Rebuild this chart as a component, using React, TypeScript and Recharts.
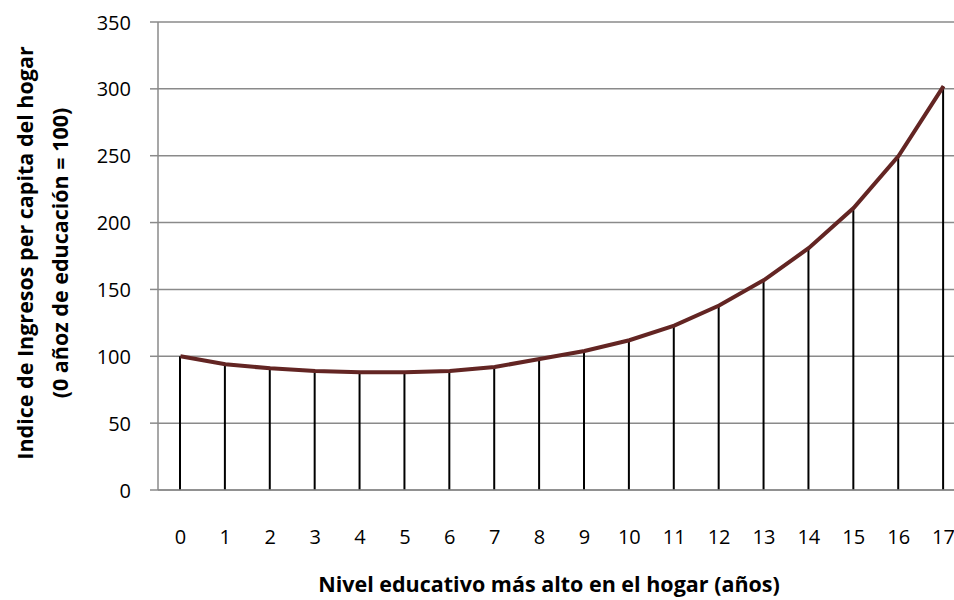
import React from "react";
import {
  ComposedChart,
  Bar,
  Line,
  XAxis,
  YAxis,
  CartesianGrid,
} from "recharts";

const years = ["0", "1", "2", "3", "4", "5", "6", "7", "8", "9", "10", "11", "12", "13", "14", "15", "16", "17"];
const indexValues = [100, 94, 91, 89, 88, 88, 89, 92, 98, 104, 112, 123, 138, 157, 181, 211, 250, 302];
const yTicks = [0, 50, 100, 150, 200, 250, 300, 350];

const yTitle1 = "Indice de Ingresos per capita del hogar";
const yTitle2 = "(0 añoz de educación = 100)";
const xTitle = "Nivel educativo más alto en el hogar (años)";

const data = years.map((y, i) => ({ year: y, value: indexValues[i] }));

const FONT = "'Open Sans', 'Liberation Sans', sans-serif";
const GRID = "#8a8a8a";

const XTick = (props: any) => {
  const { x, y, payload } = props;
  return (
    <text x={x} y={y} dy={46} textAnchor="middle" fontFamily={FONT} fontSize={20} fill="#000">
      {payload.value}
    </text>
  );
};

const YTick = (props: any) => {
  const { x, y, payload } = props;
  return (
    <text x={x} y={y} textAnchor="end" dominantBaseline="central" fontFamily={FONT} fontSize={20} fill="#000">
      {payload.value}
    </text>
  );
};

const YTitle = (props: any) => {
  const vb = props.viewBox || {};
  const cy = (vb.y ?? 22) + (vb.height ?? 468) / 2 - 3;
  return (
    <g>
      <text
        x={24}
        y={cy}
        transform={`rotate(-90, 24, ${cy})`}
        textAnchor="middle"
        dominantBaseline="central"
        fontFamily={FONT}
        fontWeight="bold"
        fontSize={21.5}
        fill="#000"
      >
        {yTitle1}
      </text>
      <text
        x={59}
        y={cy}
        transform={`rotate(-90, 59, ${cy})`}
        textAnchor="middle"
        dominantBaseline="central"
        fontFamily={FONT}
        fontWeight="bold"
        fontSize={21.5}
        fill="#000"
      >
        {yTitle2}
      </text>
    </g>
  );
};

const XTitle = (props: any) => {
  const vb = props.viewBox || {};
  const cx = (vb.x ?? 158) + (vb.width ?? 808) / 2 - 13;
  return (
    <text x={cx} y={592} textAnchor="middle" fontFamily={FONT} fontWeight="bold" fontSize={21.5} fill="#000">
      {xTitle}
    </text>
  );
};

export default function App() {
  return (
    <div
      style={{
        position: "absolute",
        left: 0,
        top: 0,
        width: 954,
        height: 600,
        overflow: "hidden",
        background: "#fff",
      }}
    >
      <ComposedChart
        width={966}
        height={600}
        data={data}
        margin={{ top: 22, right: 0, bottom: 0, left: 0 }}
      >
        <CartesianGrid vertical={false} stroke={GRID} strokeWidth={1.5} />
        <XAxis
          dataKey="year"
          tick={<XTick />}
          tickLine={false}
          axisLine={{ stroke: GRID, strokeWidth: 1.5 }}
          height={110}
          interval={0}
          label={<XTitle />}
        />
        <YAxis
          domain={[0, 350]}
          ticks={yTicks}
          width={158}
          tickSize={8}
          tickMargin={19}
          tick={<YTick />}
          tickLine={{ stroke: GRID, strokeWidth: 1.5 }}
          axisLine={{ stroke: GRID, strokeWidth: 1.5 }}
          label={<YTitle />}
        />
        <Bar dataKey="value" barSize={2} fill="#000" isAnimationActive={false} />
        <Line
          type="linear"
          dataKey="value"
          stroke="#632523"
          strokeWidth={4}
          dot={false}
          isAnimationActive={false}
        />
      </ComposedChart>
    </div>
  );
}
